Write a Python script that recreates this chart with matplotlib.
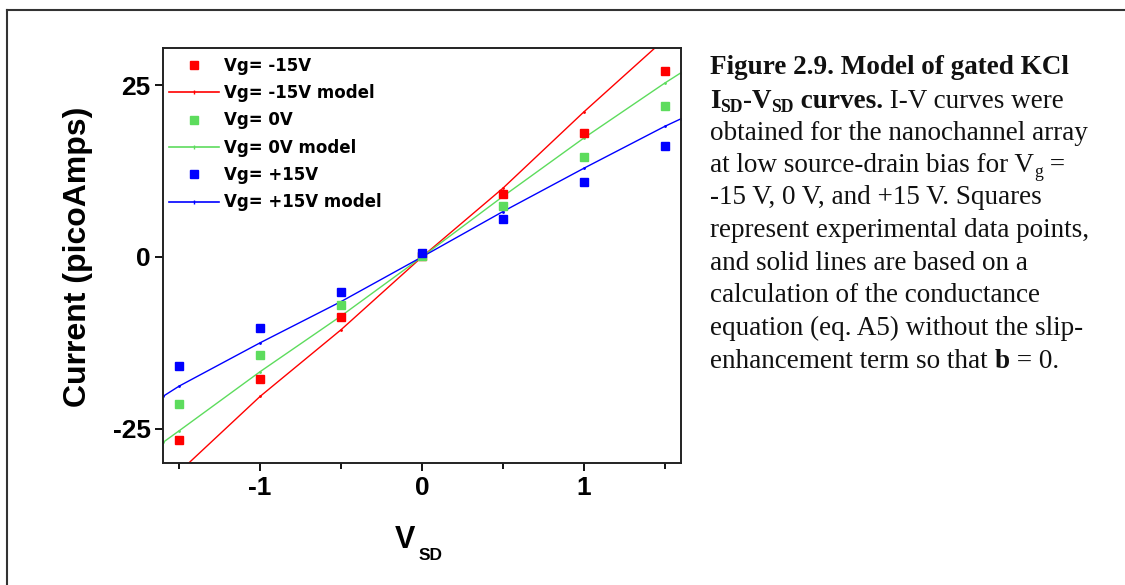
import matplotlib
matplotlib.use('Agg')
import matplotlib.pyplot as plt
from matplotlib.lines import Line2D
from matplotlib.ticker import MultipleLocator

# measured data (picoAmps) at each source-drain bias
vsd = [-1.5, -1.0, -0.5, 0.0, 0.5, 1.0, 1.5]
i_m15 = [-26.7, -17.8, -8.8, 0.2, 9.1, 18.0, 27.1]
i_0 = [-21.4, -14.3, -7.0, 0.2, 7.4, 14.6, 21.9]
i_p15 = [-15.9, -10.4, -5.1, 0.5, 5.5, 10.9, 16.1]

# model curves
vsd_model = [-1.6, -1.5, -1.0, -0.5, 0.0, 0.5, 1.0, 1.5, 1.6]
m_m15 = [-33.5, -31.3, -20.3, -10.6, 0.0, 10.0, 21.1, 31.7, 33.9]
m_0 = [-27.0, -25.3, -16.7, -8.6, 0.0, 8.8, 17.3, 25.3, 26.8]
m_p15 = [-20.3, -18.8, -12.5, -6.5, 0.0, 6.6, 12.9, 19.0, 20.1]

red = '#ff0000'
green = '#5ddc5d'
blue = '#0000ff'

fig = plt.figure(figsize=(11.25, 5.85), dpi=100)
ax = fig.add_axes([0.1449, 0.2085, 0.4604, 0.7094])

ax.plot(vsd_model, m_m15, color=red, lw=1.0, marker='.', ms=2, label='Vg= -15V model')
ax.plot(vsd_model, m_0, color=green, lw=1.0, marker='.', ms=2, label='Vg= 0V model')
ax.plot(vsd_model, m_p15, color=blue, lw=1.0, marker='.', ms=2, label='Vg= +15V model')
ax.plot(vsd, i_m15, 's', color=red, ms=5.5, ls='none', label='Vg= -15V')
ax.plot(vsd, i_0, 's', color=green, ms=5.5, ls='none', label='Vg= 0V')
ax.plot(vsd, i_p15, 's', color=blue, ms=5.5, ls='none', label='Vg= +15V')

ax.set_xlim(-1.6, 1.6)
ax.set_ylim(-30, 30.4)
ax.set_xticks([-1, 0, 1])
ax.set_xticklabels(['-1', '0', '1'])
ax.xaxis.set_minor_locator(MultipleLocator(0.5))
ax.set_yticks([-25, 0, 25])
ax.set_yticklabels(['-25', '0', '25'])
ax.tick_params(which='major', direction='out', length=6, width=1.3, pad=3)
ax.tick_params(which='minor', direction='out', length=4, width=1.3)
for lab in ax.get_xticklabels() + ax.get_yticklabels():
    lab.set_fontfamily('Liberation Sans')
    lab.set_fontweight('bold')
    lab.set_fontsize(19)
for s in ax.spines.values():
    s.set_linewidth(1.4)
    s.set_color('#222222')

# legend: order as in the reference
hd = [
    Line2D([], [], marker='s', color=red, ls='none', ms=5.5),
    Line2D([], [], color=red, lw=1.2, marker='|', ms=3),
    Line2D([], [], marker='s', color=green, ls='none', ms=5.5),
    Line2D([], [], color=green, lw=1.2, marker='|', ms=3),
    Line2D([], [], marker='s', color=blue, ls='none', ms=5.5),
    Line2D([], [], color=blue, lw=1.2, marker='|', ms=3),
]
lb = ['Vg= -15V', 'Vg= -15V model', 'Vg= 0V', 'Vg= 0V model', 'Vg= +15V', 'Vg= +15V model']
leg = ax.legend(hd, lb, loc='upper left', frameon=False, bbox_to_anchor=(-0.006, 1.0),
                prop={'family': 'DejaVu Sans', 'weight': 'bold', 'size': 12},
                handlelength=3.0, handletextpad=0.3, labelspacing=0.56, borderaxespad=0.12)

# axis labels
fig.text(78 / 1125, 1 - 257 / 585, 'Current (picoAmps)', rotation=90, ha='center', va='center',
         family='Liberation Sans', weight='bold', fontsize=23)
fig.text(405 / 1125, 1 - 540 / 585, 'V', ha='center', va='center',
         family='Liberation Sans', weight='bold', fontsize=22)
fig.text(431 / 1125, 1 - 555 / 585, 'SD', ha='center', va='center',
         family='Liberation Sans', weight='bold', fontsize=12.5)

# caption on the right, drawn piece by piece
caption = [
    [('Figure 2.9. Model of gated KCl', 'bold', 0)],
    [('I', 'bold', 0), ('SD', 'bold', 1), ('-V', 'bold', 0), ('SD', 'bold', 1),
     (' curves.', 'bold', 0), (' I-V curves were', 'normal', 0)],
    [('obtained for the nanochannel array', 'normal', 0)],
    [('at low source-drain bias for V', 'normal', 0), ('g', 'normal', 1), (' =', 'normal', 0)],
    [('-15 V, 0 V, and +15 V. Squares', 'normal', 0)],
    [('represent experimental data points,', 'normal', 0)],
    [('and solid lines are based on a', 'normal', 0)],
    [('calculation of the conductance', 'normal', 0)],
    [('equation (eq. A5) without the slip-', 'normal', 0)],
    [('enhancement term so that ', 'normal', 0), ('b', 'bold', 0), (' = 0.', 'normal', 0)],
]
line_y = [68, 101, 133, 166, 198, 231, 263, 296, 328, 361]
cap_size = 19.5
renderer = fig.canvas.get_renderer()
for parts, yp in zip(caption, line_y):
    x = 710
    for txt, wt, sub in parts:
        size = cap_size * 0.65 if sub else cap_size
        dy = 6 if sub else 0
        t = fig.text(x / 1125, 1 - (yp + dy) / 585, txt, ha='left', va='center',
                     family='Liberation Serif', weight=wt, fontsize=size, color='#111111')
        bb = t.get_window_extent(renderer=renderer)
        x += bb.width

# outer frame of the page
fig.add_artist(Line2D([7 / 1125, 1.0], [1 - 10 / 585, 1 - 10 / 585], transform=fig.transFigure,
                      color='#333333', lw=1.5))
fig.add_artist(Line2D([7 / 1125, 7 / 1125], [0.0, 1 - 10 / 585], transform=fig.transFigure,
                      color='#333333', lw=1.5))

fig.savefig('out.png', dpi=100)
